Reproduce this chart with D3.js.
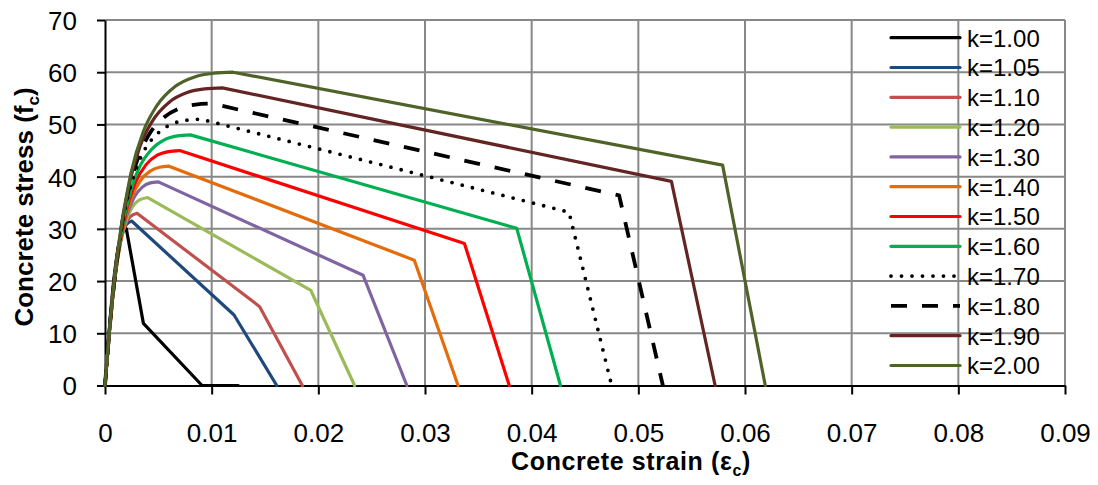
<!DOCTYPE html>
<html>
<head>
<meta charset="utf-8">
<script src="https://cdn.jsdelivr.net/npm/d3@7/dist/d3.min.js"></script>
<style>
  html, body { margin: 0; padding: 0; background: #ffffff; }
  svg { display: block; }
</style>
</head>
<body>
<svg id="chart" width="1098" height="485"></svg>
<script>
// ---------- data (strain, stress) ----------
const k100 = [[0,0],[0.0003,8.1],[0.0006,15.5],[0.0009,21.6],[0.0012,25.9],[0.0016,29.1],[0.002,30],[0.0036,11.9],[0.0091,0],[0.0125,0]];
const k105 = [[0,0],[0.000375,9.9],[0.00075,18.2],[0.001125,24.3],[0.0015,28.2],[0.002,30.8],[0.0025,31.5],[0.0121,13.5],[0.0161,0]];
const k110 = [[0,0],[0.00045,11.6],[0.0009,20.6],[0.00135,26.6],[0.0018,30.2],[0.0024,32.4],[0.003,33],[0.0145,15.1],[0.0185,0]];
const k120 = [[0,0],[0.0006,14.7],[0.0012,24.5],[0.0018,30.4],[0.0024,33.6],[0.0032,35.5],[0.004,36],[0.0193,18.2],[0.0234,0]];
const k130 = [[0,0],[0.00025,6.6],[0.0005,12.4],[0.001,21.7],[0.0015,28.0],[0.002,32.3],[0.00275,36.1],[0.0035,38.0],[0.00425,38.8],[0.005,39],[0.0242,21.1],[0.0283,0]];
const k140 = [[0,0],[0.0003,7.8],[0.0006,14.5],[0.0012,24.6],[0.0018,31.2],[0.0024,35.5],[0.0033,39.2],[0.0042,41.0],[0.0051,41.8],[0.006,42],[0.0290,24.0],[0.0331,0]];
const k150 = [[0,0],[0.00035,9.0],[0.0007,16.5],[0.0014,27.4],[0.0021,34.3],[0.0028,38.6],[0.00385,42.3],[0.0049,44.1],[0.00595,44.8],[0.007,45],[0.0337,27.2],[0.0379,0]];
const k160 = [[0,0],[0.0004,10.2],[0.0008,18.5],[0.0016,30.1],[0.0024,37.3],[0.0032,41.7],[0.0044,45.3],[0.0056,47.1],[0.0068,47.8],[0.008,48],[0.0386,30.1],[0.0427,0]];
const k170 = [[0,0],[0.00045,11.3],[0.0009,20.4],[0.0018,32.8],[0.0027,40.2],[0.0036,44.7],[0.00495,48.3],[0.0063,50.1],[0.00765,50.8],[0.009,51],[0.0435,33.2],[0.0475,0]];
const k180 = [[0,0],[0.0005,12.5],[0.001,22.2],[0.002,35.4],[0.003,43.0],[0.004,47.6],[0.0055,51.3],[0.007,53.1],[0.0085,53.8],[0.010,54],[0.0482,36.4],[0.0523,0]];
const k190 = [[0,0],[0.00055,13.6],[0.0011,24.1],[0.0022,37.9],[0.0033,45.9],[0.0044,50.5],[0.00605,54.3],[0.0077,56.1],[0.00935,56.8],[0.011,57],[0.0531,39.1],[0.0572,0]];
const k200 = [[0,0],[0.0006,14.7],[0.0012,25.9],[0.0024,40.4],[0.0036,48.7],[0.0048,53.4],[0.0066,57.3],[0.0084,59.1],[0.0102,59.8],[0.012,60],[0.0579,42.2],[0.0619,0]];

const seriesNames = ["k=1.00","k=1.05","k=1.10","k=1.20","k=1.30","k=1.40","k=1.50","k=1.60","k=1.70","k=1.80","k=1.90","k=2.00"];
const seriesData  = [k100,k105,k110,k120,k130,k140,k150,k160,k170,k180,k190,k200];

const xTicks = [0,0.01,0.02,0.03,0.04,0.05,0.06,0.07,0.08,0.09];
const xTickLabels = ["0","0.01","0.02","0.03","0.04","0.05","0.06","0.07","0.08","0.09"];
const yTicks = [0,10,20,30,40,50,60,70];

// ---------- styles ----------
const styles = [
  {color:"#000000", width:3.2, dash:null},
  {color:"#1F497D", width:3.2, dash:null},
  {color:"#C0504D", width:3.2, dash:null},
  {color:"#9BBB59", width:3.2, dash:null},
  {color:"#8064A2", width:3.2, dash:null},
  {color:"#E46C0A", width:3.2, dash:null},
  {color:"#FF0000", width:3.2, dash:null},
  {color:"#00B050", width:3.2, dash:null},
  {color:"#000000", width:3.8, dash:"0 10.5", cap:"round"},
  {color:"#000000", width:3.8, dash:"16 15", cap:"butt"},
  {color:"#632523", width:3.2, dash:null},
  {color:"#4F6228", width:3.2, dash:null}
];

const svg = d3.select("#chart");
const FONT = "'Liberation Sans', Arial, sans-serif";

const x = d3.scaleLinear().domain([0, 0.09]).range([105, 1065]);
const y = d3.scaleLinear().domain([0, 70]).range([385.5, 20]);

// gridlines
const grid = svg.append("g");
grid.selectAll("line.h").data(yTicks.filter(d => d !== 0)).enter().append("line")
  .attr("x1", x(0)).attr("x2", x(0.09))
  .attr("y1", d => y(d)).attr("y2", d => y(d))
  .attr("stroke", "#888888").attr("stroke-width", 2);
grid.selectAll("line.v").data(xTicks.filter(d => d !== 0)).enter().append("line")
  .attr("x1", d => x(d)).attr("x2", d => x(d))
  .attr("y1", y(0)).attr("y2", y(70))
  .attr("stroke", "#888888").attr("stroke-width", 2);

// axes
const xAxis = d3.axisBottom(x).tickValues(xTicks).tickFormat((d,i) => xTickLabels[i])
  .tickSize(9).tickSizeOuter(0).tickPadding(29);
const yAxis = d3.axisLeft(y).tickValues(yTicks).tickFormat(d3.format("d"))
  .tickSize(8).tickSizeOuter(0).tickPadding(20);

const gx = svg.append("g").attr("transform", `translate(0,${y(0)})`).call(xAxis);
const gy = svg.append("g").attr("transform", `translate(${x(0)},0)`).call(yAxis);
[gx, gy].forEach(g => {
  g.select(".domain").attr("stroke", "#000").attr("stroke-width", 2);
  g.selectAll(".tick line").attr("stroke", "#000").attr("stroke-width", 2);
  g.selectAll(".tick text").attr("fill", "#000").style("font-family", FONT).style("font-size", "26px");
});
gy.selectAll(".tick text").attr("dy", "0.36em");
gx.selectAll(".tick text").attr("dy", "0.71em");

// series: smooth rising branch up to the peak, straight segments afterwards
const smooth = d3.line().x(d => x(d[0])).y(d => y(d[1])).curve(d3.curveMonotoneX);
const straight = d3.line().x(d => x(d[0])).y(d => y(d[1]));
const gs = svg.append("g");
seriesData.forEach((data, i) => {
  const s = styles[i];
  const peak = d3.maxIndex(data, d => d[1]);
  const rising = data.slice(0, peak + 1);
  const rest = data.slice(peak);
  const dPath = smooth(rising) + straight(rest).replace(/^M/, "L");
  gs.append("path")
    .attr("d", dPath)
    .attr("fill", "none")
    .attr("stroke", s.color)
    .attr("stroke-width", s.width)
    .attr("stroke-linejoin", "round")
    .attr("stroke-linecap", s.cap || "round")
    .attr("stroke-dasharray", s.dash);
});

// legend
const legend = svg.append("g");
const legY0 = 37.7, legDy = 29.8;
seriesNames.forEach((name, i) => {
  const s = styles[i];
  const yy = legY0 + i * legDy;
  legend.append("line")
    .attr("x1", 891).attr("x2", 960).attr("y1", yy).attr("y2", yy)
    .attr("stroke", s.color).attr("stroke-width", s.width)
    .attr("stroke-linecap", s.cap || "round")
    .attr("stroke-dasharray", s.dash);
  legend.append("text")
    .attr("x", 967).attr("y", yy + 8.8)
    .style("font-family", FONT).style("font-size", "24px").attr("fill", "#000")
    .text(name);
});

// axis titles
const xt = svg.append("text")
  .attr("x", 631).attr("y", 470).attr("text-anchor", "middle")
  .style("font-family", FONT).style("font-size", "25px").style("font-weight", "bold")
  .style("letter-spacing", "0.6px").attr("fill", "#000");
xt.append("tspan").text("Concrete strain (ε");
xt.append("tspan").attr("dy", 6).style("font-size", "16px").text("c");
xt.append("tspan").attr("dy", -6).text(")");

const yt = svg.append("text")
  .attr("transform", "translate(33,207) rotate(-90)").attr("text-anchor", "middle")
  .style("font-family", FONT).style("font-size", "26px").style("font-weight", "bold")
  .attr("fill", "#000");
yt.append("tspan").text("Concrete stress (f");
yt.append("tspan").attr("dy", 6).style("font-size", "17px").text("c");
yt.append("tspan").attr("dy", -6).text(")");
</script>
</body>
</html>
